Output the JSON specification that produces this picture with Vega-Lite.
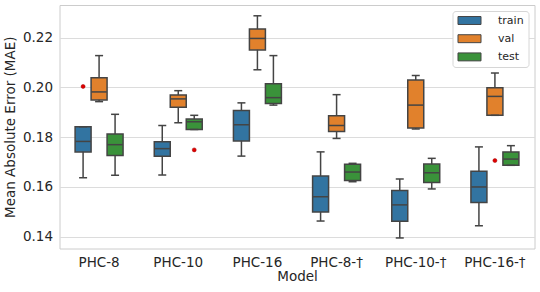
{
  "$schema": "https://vega.github.io/schema/vega-lite/v6.json",
  "width": 475,
  "height": 243.5,
  "autosize": {"type": "none"},
  "padding": {"left": 59.5, "top": 5, "right": 5.5, "bottom": 43.5},
  "background": "white",
  "config": {
    "font": "DejaVu Sans",
    "view": {"stroke": "#cccccc", "strokeWidth": 1},
    "axis": {
      "labelFont": "DejaVu Sans",
      "titleFont": "DejaVu Sans",
      "labelFontSize": 13.5,
      "titleFontSize": 13.5,
      "labelColor": "#262626",
      "titleColor": "#262626",
      "titleFontWeight": "normal",
      "ticks": false,
      "domain": false,
      "gridColor": "#dcdcdc",
      "gridWidth": 1
    }
  },
  "datasets": {
    "stats": [
      {"model": "PHC-8", "split": "train", "lo": 0.1637, "q1": 0.1741, "med": 0.1783, "q3": 0.1842, "hi": 0.1842},
      {"model": "PHC-8", "split": "val", "lo": 0.1943, "q1": 0.1950, "med": 0.1982, "q3": 0.2039, "hi": 0.2128},
      {"model": "PHC-8", "split": "test", "lo": 0.1647, "q1": 0.1726, "med": 0.1770, "q3": 0.1813, "hi": 0.1892},
      {"model": "PHC-10", "split": "train", "lo": 0.1648, "q1": 0.1723, "med": 0.1754, "q3": 0.1782, "hi": 0.1847},
      {"model": "PHC-10", "split": "val", "lo": 0.1858, "q1": 0.1920, "med": 0.1954, "q3": 0.1970, "hi": 0.1987},
      {"model": "PHC-10", "split": "test", "lo": 0.1831, "q1": 0.1831, "med": 0.1862, "q3": 0.1873, "hi": 0.1888},
      {"model": "PHC-16", "split": "train", "lo": 0.1724, "q1": 0.1785, "med": 0.1850, "q3": 0.1907, "hi": 0.1938},
      {"model": "PHC-16", "split": "val", "lo": 0.2071, "q1": 0.2151, "med": 0.2197, "q3": 0.2235, "hi": 0.2288},
      {"model": "PHC-16", "split": "test", "lo": 0.1929, "q1": 0.1935, "med": 0.1959, "q3": 0.2015, "hi": 0.2128},
      {"model": "PHC-8-†", "split": "train", "lo": 0.1463, "q1": 0.1499, "med": 0.1561, "q3": 0.1644, "hi": 0.1741},
      {"model": "PHC-8-†", "split": "val", "lo": 0.1795, "q1": 0.1823, "med": 0.1847, "q3": 0.1886, "hi": 0.1971},
      {"model": "PHC-8-†", "split": "test", "lo": 0.1621, "q1": 0.1626, "med": 0.1660, "q3": 0.1691, "hi": 0.1695},
      {"model": "PHC-10-†", "split": "train", "lo": 0.1395, "q1": 0.1462, "med": 0.1528, "q3": 0.1586, "hi": 0.1632},
      {"model": "PHC-10-†", "split": "val", "lo": 0.1833, "q1": 0.1837, "med": 0.1929, "q3": 0.2030, "hi": 0.2048},
      {"model": "PHC-10-†", "split": "test", "lo": 0.1592, "q1": 0.1618, "med": 0.1657, "q3": 0.1692, "hi": 0.1715},
      {"model": "PHC-16-†", "split": "train", "lo": 0.1444, "q1": 0.1538, "med": 0.1600, "q3": 0.1663, "hi": 0.1761},
      {"model": "PHC-16-†", "split": "val", "lo": 0.1888, "q1": 0.1888, "med": 0.1964, "q3": 0.1999, "hi": 0.2058},
      {"model": "PHC-16-†", "split": "test", "lo": 0.1687, "q1": 0.1687, "med": 0.1712, "q3": 0.1741, "hi": 0.1766}
    ],
    "outliers": [
      {"model": "PHC-8", "split": "train", "value": 0.2004},
      {"model": "PHC-10", "split": "test", "value": 0.1749},
      {"model": "PHC-16-†", "split": "val", "value": 0.1706}
    ]
  },
  "encoding": {
    "x": {
      "field": "model",
      "type": "nominal",
      "sort": ["PHC-8", "PHC-10", "PHC-16", "PHC-8-†", "PHC-10-†", "PHC-16-†"],
      "scale": {"paddingInner": 0.394, "paddingOuter": 0.197},
      "axis": {"title": "Model", "labelAngle": 0, "labelPadding": 7, "titlePadding": 0, "grid": false}
    },
    "xOffset": {
      "field": "split",
      "type": "nominal",
      "sort": ["train", "val", "test"],
      "scale": {"paddingInner": 0, "paddingOuter": 0}
    }
  },
  "layer": [
    {
      "data": {"name": "stats"},
      "mark": {"type": "rule", "color": "#444444", "strokeWidth": 1.5},
      "encoding": {
        "y": {
          "field": "lo",
          "type": "quantitative",
          "scale": {"domain": [0.13526, 0.23314], "nice": false, "zero": false},
          "axis": {"title": "Mean Absolute Error (MAE)", "values": [0.14, 0.16, 0.18, 0.2, 0.22], "format": ".2f", "labelPadding": 7, "titlePadding": 5}
        },
        "y2": {"field": "hi"}
      }
    },
    {
      "data": {"name": "stats"},
      "mark": {"type": "bar", "stroke": "#444444", "strokeWidth": 1.5, "opacity": 1},
      "encoding": {
        "y": {"field": "q1", "type": "quantitative"},
        "y2": {"field": "q3"},
        "color": {
          "field": "split",
          "type": "nominal",
          "sort": ["train", "val", "test"],
          "scale": {"domain": ["train", "val", "test"], "range": ["#3274a1", "#e1812c", "#3a923a"]},
          "legend": {
            "title": null,
            "orient": "top-right",
            "offset": 6,
            "symbolType": "M-2.9,-1H2.9V1H-2.9Z",
            "symbolSize": 63,
            "symbolOffset": 7.5,
            "symbolStrokeColor": "#444444",
            "symbolStrokeWidth": 1,
            "symbolOpacity": 1,
            "labelFontSize": 11,
            "labelColor": "#262626",
            "labelOffset": 23,
            "rowPadding": 5.2,
            "padding": 4,
            "strokeColor": "#d6d6d6",
            "fillColor": "white",
            "cornerRadius": 3
          }
        }
      }
    },
    {
      "data": {"name": "stats"},
      "mark": {"type": "tick", "color": "#444444", "thickness": 1.5, "size": 15.5, "opacity": 1},
      "encoding": {"y": {"field": "med", "type": "quantitative"}}
    },
    {
      "data": {"name": "stats"},
      "mark": {"type": "tick", "color": "#444444", "thickness": 1.5, "size": 8, "opacity": 1},
      "encoding": {"y": {"field": "lo", "type": "quantitative"}}
    },
    {
      "data": {"name": "stats"},
      "mark": {"type": "tick", "color": "#444444", "thickness": 1.5, "size": 8, "opacity": 1},
      "encoding": {"y": {"field": "hi", "type": "quantitative"}}
    },
    {
      "data": {"name": "outliers"},
      "mark": {"type": "point", "filled": true, "color": "#e00000", "size": 16, "opacity": 1, "stroke": "#a00000", "strokeWidth": 0.5},
      "encoding": {"y": {"field": "value", "type": "quantitative"}}
    }
  ]
}
